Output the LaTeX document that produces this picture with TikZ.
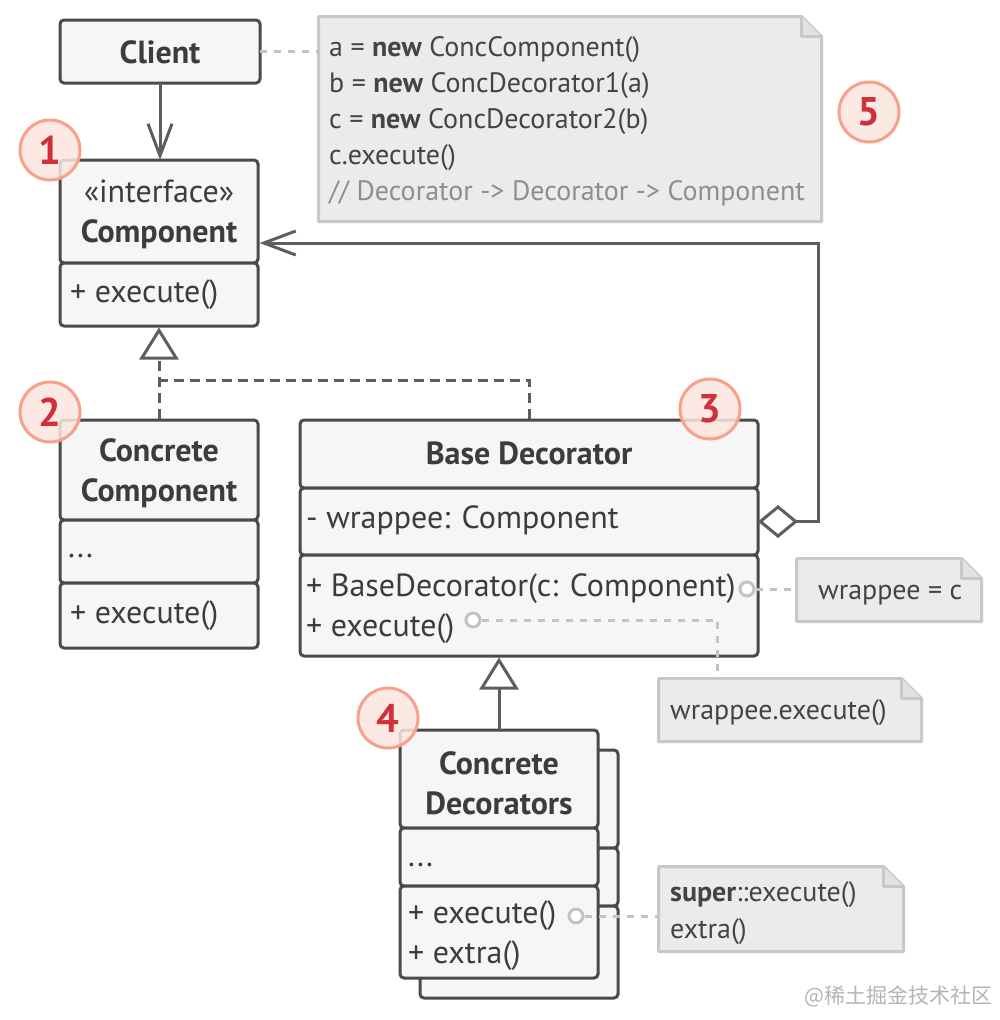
\documentclass[tikz,border=0pt]{standalone}
\usepackage{fontspec}
\setmainfont{PT Sans}
\newfontfamily\cjk{Noto Sans CJK SC}
\usetikzlibrary{arrows.meta,calc}
\definecolor{boxline}{HTML}{4A4A4A}
\definecolor{boxfill}{HTML}{F6F6F6}
\definecolor{txt}{HTML}{3C3C3C}
\definecolor{connc}{HTML}{5E5E5E}
\definecolor{notefill}{HTML}{EBEBEB}
\definecolor{notefold}{HTML}{E2E2E2}
\definecolor{noteline}{HTML}{C8C8C8}
\definecolor{notetxt}{HTML}{444444}
\definecolor{commentc}{HTML}{8E8E8E}
\definecolor{dotc}{HTML}{C3C3C3}
\definecolor{badgefill}{HTML}{FDE6E0}
\definecolor{badgeline}{HTML}{F7A08A}
\definecolor{badgetxt}{HTML}{D0303A}
\definecolor{wmc}{HTML}{B4B4B4}
\tikzset{
  compart/.style={draw=boxline, fill=boxfill, line width=3pt, rounded corners=4pt, inner sep=0pt, outer sep=0pt},
  classbox/.style={inner sep=0pt, outer sep=1.5pt},
  ttl/.style={font=\fontsize{32}{40}\selectfont\bfseries, text=txt, align=center, inner sep=0pt},
  body/.style={font=\fontsize{32}{40}\selectfont, text=txt, anchor=mid west, inner sep=0pt},
  bodyc/.style={font=\fontsize{32}{40}\selectfont, text=txt, inner sep=0pt},
  notebody/.style={font=\fontsize{28}{36}\selectfont, text=notetxt, anchor=mid west, inner sep=0pt},
  notearea/.style={inner sep=0pt, outer sep=1.5pt},
  noteshape/.style={draw=noteline, fill=notefill, line width=3pt, line join=round},
  conn/.style={draw=connc, line width=3pt},
  realize/.style={conn, dash pattern=on 10pt off 6pt},
  dotconn/.style={draw=dotc, line width=3pt, dash pattern=on 7pt off 7pt},
  pinc/.style={circle, draw=dotc, fill=white, line width=3pt, minimum size=14pt, inner sep=0pt},
  badge/.style={circle, draw=badgeline, fill=badgefill, fill opacity=0.85, text opacity=1, line width=3pt, minimum size=60pt, inner sep=0pt, font=\fontsize{40}{40}\selectfont\bfseries, text=badgetxt},
  openv/.tip={Straight Barb[length=32pt,width=24pt,line width=3pt]},
  gentri/.tip={Triangle[open,fill=white,length=32pt,width=39pt,line width=3pt]},
  aggdia/.tip={Diamond[open,fill=white,length=40pt,width=33pt,line width=3pt]}
}
\newcommand\drawnote[1]{%
  \draw[noteshape] (#1.south west) -- (#1.north west) -- ([xshift=-20pt]#1.north east) -- ([yshift=-20pt]#1.north east) -- (#1.south east) -- cycle;
  \draw[noteshape, fill=notefold] ([xshift=-20pt]#1.north east) -- ([xshift=-20pt,yshift=-20pt]#1.north east) -- ([yshift=-20pt]#1.north east);
}
\begin{document}
\begin{tikzpicture}[x=1pt,y=-1pt]
\fill[white] (0,0) rectangle (1000,1020);
\useasboundingbox (0,0) rectangle (1000,1020);

% ---------- notes ----------
\node[notearea, minimum width=500pt, minimum height=202pt] (note5) at (570,119) {};
\drawnote{note5}
\node[notebody] (c1) at (329,54) {a = \textbf{new} ConcComponent()};
\node[notebody] (c2) at (329,90) {b = \textbf{new} ConcDecorator1(a)};
\node[notebody] (c3) at (329,126) {c = \textbf{new} ConcDecorator2(b)};
\node[notebody] (c4) at (329,162) {c.execute()};
\node[notebody, text=commentc] (c5) at (329,198) {// Decorator -> Decorator -> Component};

\node[notearea, minimum width=182pt, minimum height=60pt] (note1) at (889,590) {};
\drawnote{note1}
\node[notebody] (n1t) at (818,597) {wrappee = c};

\node[notearea, minimum width=260pt, minimum height=60pt] (note2) at (790,710) {};
\drawnote{note2}
\node[notebody] (n2t) at (670,717) {wrappee.execute()};

\node[notearea, minimum width=242pt, minimum height=82pt] (note3) at (781,909) {};
\drawnote{note3}
\node[notebody] (n3a) at (670,899) {\textbf{super}::execute()};
\node[notebody] (n3b) at (670,936) {extra()};

% ---------- Client ----------
\node[compart, minimum width=200pt, minimum height=63pt] (client) at (160,51.5) {};
\node[ttl] (clientt) at (160,52) {Client};

% ---------- Component ----------
\node[classbox, minimum width=198pt, minimum height=166pt] (comp) at (159,243) {};
\node[compart, minimum width=198pt, minimum height=103pt] (comptitle) at (159,211.5) {};
\node[compart, minimum width=198pt, minimum height=63pt] (compmeth) at (159,294.5) {};
\node[bodyc] (compst) at (159,191) {«interface»};
\node[ttl] (compt) at (159,234) {Component};
\node[body] (compm) at (70,300) {+ execute()};

% ---------- Concrete Component ----------
\node[classbox, minimum width=198pt, minimum height=228pt] (cc) at (159,534) {};
\node[compart, minimum width=198pt, minimum height=100pt] (cctitle) at (159,470) {};
\node[compart, minimum width=198pt, minimum height=63pt] (ccattr) at (159,551.5) {};
\node[compart, minimum width=198pt, minimum height=65pt] (ccmeth) at (159,615.5) {};
\node[ttl] (cct) at (159,473) {Concrete\\Component};
\node[body] (cca) at (68,555) {...};
\node[body] (ccm) at (70,621) {+ execute()};

% ---------- Base Decorator ----------
\node[classbox, minimum width=458pt, minimum height=236pt] (bd) at (529,538) {};
\node[compart, minimum width=458pt, minimum height=68pt] (bdtitle) at (529,454) {};
\node[compart, minimum width=458pt, minimum height=67pt] (bdattr) at (529,521.5) {};
\node[compart, minimum width=458pt, minimum height=101pt] (bdmeth) at (529,605.5) {};
\node[ttl] (bdt) at (529,453) {Base Decorator};
\node[body] (bda) at (306,526) {- wrappee: Component};
\node[body] (bdm1) at (306,594) {+ BaseDecorator(c: Component)};
\node[body] (bdm2) at (306,634) {+ execute()};

% ---------- Concrete Decorators (stack) ----------
\node[compart, minimum width=198pt, minimum height=98pt] (cdbtitle) at (519,799) {};
\node[compart, minimum width=198pt, minimum height=58pt] (cdbattr) at (519,877) {};
\node[compart, minimum width=198pt, minimum height=92pt] (cdbmeth) at (519,952) {};
\node[classbox, minimum width=198pt, minimum height=248pt] (cd) at (499,854) {};
\node[compart, minimum width=198pt, minimum height=98pt] (cdtitle) at (499,779) {};
\node[compart, minimum width=198pt, minimum height=58pt] (cdattr) at (499,857) {};
\node[compart, minimum width=198pt, minimum height=92pt] (cdmeth) at (499,932) {};
\node[ttl] (cdt) at (499,783) {Concrete\\Decorators};
\node[body] (cda) at (408,864) {...};
\node[body] (cdm1) at (408,921) {+ execute()};
\node[body] (cdm2) at (408,961) {+ extra()};

% ---------- connectors ----------
\draw[conn, -{openv}] (client.south) -- (client.south |- comptitle.north);
\draw[realize, -{gentri}] (cc.north) -- (cc.north |- comp.south);
\coordinate (junc) at (159,380);
\draw[realize] (bd.north) |- (junc);
\draw[conn, -{gentri}] (cdtitle.north) -- (cdtitle.north |- bd.south);
\draw[conn, {aggdia}-{openv}] (bdattr.east) -- ++(60,0) |- (comp.east);

\draw[dotconn] (client.east) -- (note5.west |- client.east);
\node[pinc] (p1) at (747,589) {};
\draw[dotconn] (p1.east) -- (note1.west |- p1.east);
\node[pinc] (p2) at (473,620) {};
\draw[dotconn] (p2.east) -| ($(note2.north west)!0.223!(note2.north east)$);
\node[pinc] (p3) at (576,916) {};
\draw[dotconn] (p3.east) -- (note3.west |- p3.east);

% ---------- badges ----------
\node[badge] (b1) at (50,150) {1};
\node[badge] (b2) at (50,412) {2};
\node[badge] (b3) at (710,409) {3};
\node[badge] (b4) at (388,718) {4};
\node[badge] (b5) at (869,112) {5};

% ---------- watermark ----------
\node[font=\cjk\fontsize{21}{21}\selectfont, text=wmc, anchor=mid east, inner sep=0pt] (wm) at (993,1001) {@稀土掘金技术社区};
\end{tikzpicture}
\end{document}
